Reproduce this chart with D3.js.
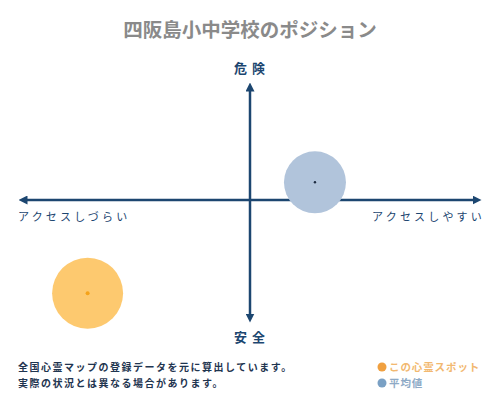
<!DOCTYPE html>
<html>
<head>
<meta charset="utf-8">
<script src="https://cdn.jsdelivr.net/npm/d3@7"></script>
<style>
  body { margin: 0; background: #fff; }
  svg { display: block; }
  text { font-family: "Noto Sans CJK JP", sans-serif; }
</style>
</head>
<body>
<div id="chart"></div>
<script>
const width = 500,
  height = 400;

// data: position on the access (x) / danger (y) axes, -100..100
const series = ["この心霊スポット", "平均値"];
const access = [-70, 28];
const danger = [-79, 15];
const axisLabels = ["危険", "安全", "アクセスしづらい", "アクセスしやすい"];
const notes = ["全国心霊マップの登録データを元に算出しています。", "実際の状況とは異なる場合があります。"];

const navy = "#1c4670";
const fills = ["#fdc96f", "#b1c4db"];
const dots = ["#f5a31a", "#1c2a40"];
const legendColors = ["#f0a040", "#7aa0c4"];
const legendText = ["#f2b870", "#8eaac6"];
const radius = [35.5, 31];

const x = d3.scaleLinear().domain([-100, 100]).range([18, 482]);
const y = d3.scaleLinear().domain([-100, 100]).range([318, 82]);

const svg = d3.select("#chart")
  .append("svg")
  .attr("width", width)
  .attr("height", height);

svg.append("defs").selectAll("marker")
  .data(["head"])
  .join("marker")
  .attr("id", d => d)
  .attr("viewBox", "0 0 10 10")
  .attr("refX", 5).attr("refY", 5)
  .attr("markerWidth", 3.6).attr("markerHeight", 3.6)
  .attr("orient", "auto-start-reverse")
  .append("path")
  .attr("d", "M0,0L10,5L0,10z")
  .attr("fill", navy);

// title
svg.append("text")
  .attr("x", 250).attr("y", 37)
  .attr("text-anchor", "middle")
  .attr("font-size", 19.5)
  .attr("font-weight", "bold")
  .attr("fill", "#8a8a8a")
  .text("四阪島小中学校のポジション");

// axes
svg.append("line")
  .attr("x1", x(-100) + 5).attr("x2", x(100) - 5)
  .attr("y1", y(0)).attr("y2", y(0))
  .attr("stroke", navy).attr("stroke-width", 2.5)
  .attr("marker-start", "url(#head)")
  .attr("marker-end", "url(#head)");

svg.append("line")
  .attr("x1", x(0)).attr("x2", x(0))
  .attr("y1", 87).attr("y2", 318)
  .attr("stroke", navy).attr("stroke-width", 2.5)
  .attr("marker-start", "url(#head)")
  .attr("marker-end", "url(#head)");

// axis labels
svg.append("text")
  .attr("x", 252).attr("y", 73)
  .attr("text-anchor", "middle")
  .attr("font-size", 13).attr("font-weight", "bold")
  .attr("letter-spacing", 5)
  .attr("fill", navy)
  .text(axisLabels[0]);

svg.append("text")
  .attr("x", 252).attr("y", 342)
  .attr("text-anchor", "middle")
  .attr("font-size", 13).attr("font-weight", "bold")
  .attr("letter-spacing", 5)
  .attr("fill", navy)
  .text(axisLabels[1]);

svg.append("text")
  .attr("x", 18).attr("y", 221)
  .attr("font-size", 11)
  .attr("letter-spacing", 3.2)
  .attr("fill", navy)
  .text(axisLabels[2]);

svg.append("text")
  .attr("x", 485).attr("y", 221)
  .attr("text-anchor", "end")
  .attr("font-size", 11)
  .attr("letter-spacing", 3.2)
  .attr("fill", navy)
  .text(axisLabels[3]);

// bubbles
const pts = series.map((s, i) => ({ name: s, ax: access[i], dg: danger[i], i }));

svg.append("g")
  .selectAll("circle")
  .data(pts)
  .join("circle")
  .attr("cx", d => x(d.ax))
  .attr("cy", d => y(d.dg))
  .attr("r", d => radius[d.i])
  .attr("fill", d => fills[d.i]);

svg.append("g")
  .selectAll("circle")
  .data(pts)
  .join("circle")
  .attr("cx", d => x(d.ax))
  .attr("cy", d => y(d.dg))
  .attr("r", d => d.i == 0 ? 2 : 1.2)
  .attr("fill", d => dots[d.i]);

// footnote
svg.append("g")
  .selectAll("text")
  .data(notes)
  .join("text")
  .attr("x", 18)
  .attr("y", (d, i) => 371 + i * 16)
  .attr("font-size", 10)
  .attr("font-weight", "bold")
  .attr("letter-spacing", 1.5)
  .attr("fill", "#1f3550")
  .text(d => d);

// legend
const legend = svg.append("g")
  .selectAll("g")
  .data(series)
  .join("g")
  .attr("transform", (d, i) => `translate(382,${367 + i * 16})`);

legend.append("circle")
  .attr("r", 4.5)
  .attr("fill", (d, i) => legendColors[i]);

legend.append("text")
  .attr("x", 7).attr("y", 4)
  .attr("font-size", 10.5)
  .attr("font-weight", "bold")
  .attr("letter-spacing", 0.9)
  .attr("fill", (d, i) => legendText[i])
  .text(d => d);
</script>
</body>
</html>
